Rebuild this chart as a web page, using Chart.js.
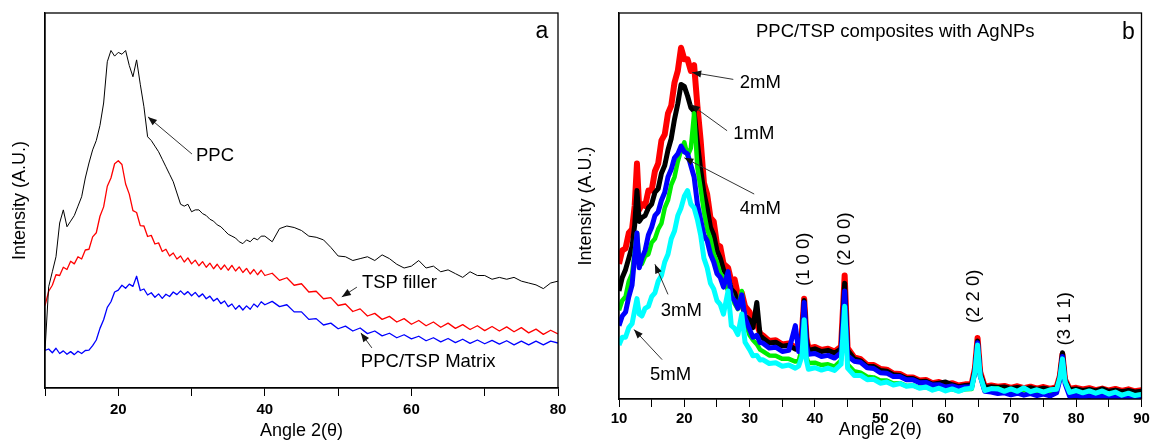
<!DOCTYPE html>
<html lang="en">
<head>
    <meta charset="UTF-8">
    <title>XRD patterns of PPC/TSP composites</title>
    <script src="https://cdn.jsdelivr.net/npm/chart.js"></script>
    <style>
        body { margin: 0; background: #fff; overflow: hidden; }
        #wrap { position: relative; width: 1151px; height: 440px; overflow: hidden; }
        #wrap canvas { position: absolute; top: 0; }
        #chartA { left: 0; }
        #chartB { left: 575px; }
    </style>
</head>
<body>
<div id="wrap">
    <canvas id="chartA" width="575" height="440"></canvas>
    <canvas id="chartB" width="578" height="440"></canvas>
</div>
<script>
    // ---- panel a : diffraction angle 2θ and intensities (arbitrary units, 0-100)
    var angleA = [10, 10.5, 11, 11.5, 12, 12.5, 13, 13.5, 14, 14.5, 15, 15.5, 16, 16.5, 17, 17.5, 18, 18.5, 19, 19.5,
        20, 20.5, 21, 21.5, 22, 22.5, 23, 23.5, 24, 24.5, 25, 25.5, 26, 26.5, 27, 27.5, 28, 28.5, 29, 29.5,
        30, 30.5, 31, 31.5, 32, 32.5, 33, 33.5, 34, 34.5, 35, 35.5, 36, 36.5, 37, 37.5, 38, 38.5, 39, 39.5, 40,
        41, 42, 43, 44, 45, 46, 47, 48, 49, 50, 51, 52, 53, 54, 55, 56, 57, 58, 59, 60,
        61, 62, 63, 64, 65, 66, 67, 68, 69, 70, 71, 72, 73, 74, 75, 76, 77, 78, 79, 80];

    var ppc = [10, 27, 31, 35, 44, 47.5, 43, 44.5, 46, 48.5, 51, 56, 60, 63.5, 66, 70, 76, 87, 90, 88.5,
        89.5, 89, 90, 86, 83, 87.5, 81, 75, 67, 66, 64.5, 63, 61, 59, 57, 55, 52, 49, 48.5, 49,
        47, 47.5, 47.5, 46.5, 46, 45, 44.5, 43.5, 43, 42, 41, 40.5, 40, 39, 38.5, 39.5, 39, 40, 39.5, 40.5, 40.5,
        39, 42.5, 43.2, 42.8, 42, 40.5, 40.2, 39.5, 37.5, 35.2, 35, 34, 34.5, 35, 34, 35.5, 34.5, 33, 32, 32.5,
        34, 32, 32.5, 31, 31.5, 30.5, 29.5, 31, 30, 30, 29, 29.5, 29, 29.5, 28.5, 28, 27.5, 26.5, 28, 28.5];

    var tspFiller = [22, 25.8, 27.4, 30.2, 30, 32.2, 31.6, 33.8, 33.1, 35, 34.4, 36.8, 37, 40.3, 41.4, 45.8, 48.3, 53.8, 56, 59.8,
        60.6, 59.6, 54.4, 51.7, 47.3, 46.8, 43.3, 43.2, 40.4, 40.7, 38.4, 38.7, 36.4, 37, 35.2, 36, 34.4, 35.2, 33.6, 34.7,
        33.1, 34.1, 32.6, 33.7, 32.2, 33.3, 31.8, 33, 31.6, 32.8, 31.4, 32.7, 31.2, 32.3, 30.8, 31.9, 30.4, 31.6, 30.2, 31.4, 30,
        30.6, 28.7, 29.4, 27.4, 27.8, 25.6, 25.8, 23.8, 24.1, 22, 22.4, 20.4, 21.1, 19.2, 19.9, 18.3, 19.1, 17.6, 18.5, 17,
        18, 16.6, 17.6, 16.2, 17.3, 15.9, 16.9, 15.6, 16.6, 15.3, 16.4, 15.2, 16.3, 15, 16.1, 14.7, 15.7, 14.3, 15.4, 14.4];

    var ppcTspMatrix = [10, 10.4, 9.4, 10.6, 9.2, 9.9, 9, 9.7, 8.9, 9.8, 9.2, 10, 10.1, 11.3, 12.8, 15.9, 18.2, 21.5, 23, 25.6,
        26.1, 27.4, 26.6, 27.7, 27.1, 29.8, 26, 26.4, 24.8, 25.4, 24.2, 25.1, 23.9, 25, 24.4, 25.6, 24.9, 25.9, 24.9, 25.7,
        24.6, 25.5, 24.3, 25.1, 23.8, 24.5, 23.2, 23.9, 22.5, 23.2, 21.7, 22.4, 21, 22, 20.8, 21.9, 21, 22.4, 21.6, 23, 22.2,
        23.1, 21.7, 22.2, 20.3, 20.3, 18.3, 18.5, 16.8, 17.3, 15.8, 16.5, 15.2, 16, 14.5, 15.2, 13.9, 14.6, 13.4, 14.2, 13.1,
        13.8, 12.6, 13.4, 12.3, 13.2, 12.1, 13, 11.9, 12.8, 11.8, 12.7, 11.7, 12.6, 11.5, 12.5, 11.5, 12.5, 11.5, 12.5, 12];

    // ---- panel b : PPC/TSP composites with silver nanoparticles
    var angleB = [10, 10.5, 11, 11.5, 12, 12.4, 12.75, 13.1,
        13.5, 14, 14.5, 15, 15.5, 16, 16.5, 17, 17.5, 18, 18.5, 19, 19.5, 20, 20.5, 21, 21.5, 22, 22.5, 23, 23.5, 24, 24.5, 25, 25.5, 26,
        26.7, 27.2, 27.7, 28.2, 28.8, 29.3, 30, 30.5, 31.1, 31.6, 32, 33, 34, 35, 36, 37,
        37.5, 38, 38.35, 38.7, 39, 40, 41, 42, 43, 44, 44.55, 45,
        46, 47, 48, 49, 50, 51, 52, 53, 54, 55, 56, 57, 58, 59, 60, 61, 62, 63, 64,
        64.5, 64.9, 65.3, 66, 67, 68, 69, 70, 71, 72, 73, 74, 75, 76, 77,
        77.5, 77.9, 78.3, 79, 80, 81, 82, 83, 84, 85, 86, 87, 88, 89, 90];

    var ag2mM = [35, 38.5, 39, 43, 44, 50, 61, 49,
        50.5, 50, 54, 54, 59, 61, 67, 68.5, 74, 76, 82, 85, 91, 88, 88, 85, 86.5, 76, 67, 56, 53, 47, 46, 40, 39.5, 35,
        34, 30.5, 31, 27, 27.5, 24, 22.5, 20, 19.5, 17, 16.5, 15, 15.2, 14.1, 14.4, 13.4,
        13.8, 17, 26, 16, 13.1, 13.5, 12.7, 13, 12.3, 13.6, 32, 13.2,
        10.8, 10.3, 8.8, 8.8, 7.8, 7.6, 6.6, 6.5, 5.6, 5.6, 4.8, 4.9, 4.1, 4.4, 3.8, 4.1, 3.5, 3.8, 3.9,
        8, 15.8, 7, 3.2, 3.5, 3.2, 3.4, 2.9, 3.3, 2.8, 3.2, 2.7, 3.1, 2.6, 3.1,
        6, 11.6, 5, 2.6, 2.9, 2.5, 2.8, 2.3, 2.7, 2.2, 2.6, 2.1, 2.5, 2, 2.3];

    var ag1mM = [28, 31.5, 33.5, 36.5, 39.5, 45, 54, 46,
        47, 47.5, 49.5, 50.5, 53.5, 54.5, 58.5, 60.5, 64.5, 67.5, 72.5, 76.5, 81.5, 81, 78.5, 75.5, 74.5, 66.5, 59.5, 53.5, 49.5, 44.5, 42.5, 38.5, 36.5, 33.5,
        31.5, 28.5, 27.5, 25, 24.5, 21.5, 20.5, 18.5, 25, 16.5, 15.8, 14.5, 14.7, 13.7, 13.9, 12.9,
        13.3, 16, 25.5, 15.5, 12.6, 13, 12.3, 12.6, 11.9, 13, 30, 12.6,
        10.4, 9.9, 8.4, 8.4, 7.4, 7.2, 6.3, 6.1, 5.3, 5.3, 4.5, 4.6, 3.8, 4.1, 4.4, 3.7, 3.2, 3.5, 3.6,
        7.5, 15, 6.5, 3, 3.2, 3, 3.1, 2.7, 3, 2.6, 2.9, 2.5, 2.8, 2.4, 2.8,
        5.8, 12, 4.8, 2.4, 2.6, 2.2, 2.5, 2.1, 2.6, 2, 2.3, 1.9, 2.2, 1.8, 2];

    var ag4mM = [19, 21.5, 22.5, 26.5, 29.5, 37, 43, 34,
        36.5, 38.5, 42.5, 44.5, 47.5, 48.5, 51.5, 53.5, 57.5, 59.5, 62.5, 63.5, 65.5, 64, 63.5, 60.5, 57.5, 50.5, 46.5, 42.5, 41, 37.5, 35.5, 32.5, 31.5, 29,
        33, 26.5, 25.5, 23.5, 27, 21, 18, 16, 16.5, 14.6, 14.5, 13.2, 13.4, 12.3, 12.6, 19,
        12.3, 15, 25, 14, 11.6, 11.8, 11, 11.3, 10.6, 12, 28, 11.2,
        9.8, 9.5, 8.1, 7.9, 6.8, 6.7, 5.8, 5.8, 5, 5, 4.2, 4.3, 3.6, 3.7, 3.1, 3.4, 2.9, 3.1, 3.2,
        7, 14.6, 6, 2, 1.8, 1.4, 1.6, 1.1, 1.5, 1, 1.4, 0.9, 1.3, 0.8, 1.6,
        5, 11, 4, 0.7, 0.9, 0.5, 0.8, 0.4, 0.7, 0.3, 0.6, 0.3, 0.5, 0.3, 0.4];

    var ag3mM = [23, 25.5, 26.5, 30.5, 32.5, 38, 43, 36,
        35, 37, 37.5, 40.5, 41.5, 44, 45.5, 49.5, 51.5, 55.5, 57.5, 61.5, 64.5, 66.5, 63, 65, 74, 60, 54.5, 48.5, 44, 41.5, 37.5, 35.5, 32.5, 31.5,
        28, 27.3, 24.7, 23.3, 28, 20, 16.5, 15.3, 14.2, 12.8, 12.4, 11.3, 11.2, 10.4, 10.4, 9.7,
        9.9, 13, 22, 11, 9.3, 9.4, 8.8, 9, 8.4, 10, 25, 9,
        7.2, 6.8, 5.8, 5.6, 4.8, 4.8, 4, 4.1, 3.4, 3.5, 2.9, 3.1, 2.5, 2.7, 2.6, 2.5, 2.1, 2.5, 2.6,
        7, 14, 6, 2.2, 2.5, 2.8, 2, 2.4, 1.9, 2.3, 1.8, 2.2, 1.8, 2.1, 2.3,
        5, 10.5, 4.5, 1.6, 1.9, 1.5, 1.8, 1.3, 1.7, 1.2, 1.5, 1, 1.3, 0.9, 1.1];

    var ag5mM = [14, 16, 16, 18.5, 19.5, 23, 26, 22,
        21.5, 23.5, 24, 26.5, 27.5, 30.5, 32, 35.5, 37.5, 41.5, 43.5, 47.5, 49.5, 52.5, 54, 50.5, 49.5, 46.5, 42.5, 36.5, 34, 30, 28.5, 25.5, 24.5, 22,
        28, 19, 18.3, 16.7, 22, 14.7, 12.8, 11.2, 11.3, 10.1, 10.2, 9.2, 9.4, 8.5, 8.8, 8,
        8.5, 11, 20.5, 10, 7.7, 8.1, 7.5, 8, 7.4, 9, 24, 8,
        6.1, 6.1, 5, 5.1, 4.1, 4.4, 3.6, 4, 3.3, 3.5, 2.8, 3.1, 2.3, 2.8, 2.1, 2.6, 2, 2.6, 2.8,
        7, 14, 6, 2.2, 2.7, 2.6, 2, 2.6, 2, 2.9, 1.9, 2.4, 1.8, 2.4, 2.5,
        5.5, 10.4, 4.5, 1.7, 2.2, 1.6, 2.1, 1.5, 2.1, 1.3, 1.8, 1, 1.5, 0.9, 1.2];

    // labelled ticks
    var tickLabelsA = [20, 40, 60, 80];
    var tickLabelsB = [10, 20, 30, 40, 50, 60, 70, 80, 90];

    // text and arrows, placed in data units (angle, intensity)
    var notesA = [
        {text: 'a', x: 77.8, y: 95, size: 23, align: 'center'},
        {text: 'PPC', x: 30.6, y: 61.9, arrow: [30.05, 62.4, 24.05, 72.3]},
        {text: 'TSP filler', x: 53.25, y: 28, arrow: [52.56, 26.9, 50.5, 24.3]},
        {text: 'PPC/TSP Matrix', x: 53.1, y: 6.9, arrow: [54.6, 10.7, 53.1, 14.7]}
    ];
    var notesB = [
        {text: 'PPC/TSP composites with AgNPs', x: 52.3, y: 95, align: 'center'},
        {text: 'b', x: 88, y: 95, size: 23, align: 'center'},
        {text: '2mM', x: 28.5, y: 82, arrow: [27.5, 82.8, 21.2, 84.6]},
        {text: '1mM', x: 27.5, y: 68.75, arrow: [26.55, 69.5, 21.0, 76.3]},
        {text: '4mM', x: 28.5, y: 49.2, arrow: [30.7, 53.1, 20.0, 62.5]},
        {text: '3mM', x: 16.4, y: 22.9, arrow: [17.5, 27.1, 15.5, 34.9]},
        {text: '5mM', x: 14.75, y: 6.25, arrow: [16.6, 10.2, 12.3, 18]},
        {text: '(1 0 0)', x: 38.35, y: 36.2, rotate: true},
        {text: '(2 0 0)', x: 44.6, y: 41.4, rotate: true},
        {text: '(2 2 0)', x: 64.4, y: 26.6, rotate: true},
        {text: '(3 1 1)', x: 78.2, y: 20.8, rotate: true}
    ];

    var FONT = 'Arial, "Liberation Sans", sans-serif';
    Chart.defaults.font.family = FONT;
    Chart.defaults.color = '#000';

    function toPoints(xs, ys) {
        return xs.map(function (x, i) { return {x: x, y: ys[i]}; });
    }

    // frame around the plot area + labels and arrows
    function notesPlugin(notes) {
        return {
            id: 'notes',
            afterDatasetsDraw: function (chart) {
                var ctx = chart.ctx, a = chart.chartArea;
                var sx = chart.scales.x, sy = chart.scales.y;
                ctx.save();
                ctx.strokeStyle = '#000';
                ctx.lineWidth = 1.3;
                ctx.strokeRect(a.left, a.top, a.right - a.left, a.bottom - a.top);

                notes.forEach(function (n) {
                    var px = sx.getPixelForValue(n.x), py = sy.getPixelForValue(n.y);
                    ctx.fillStyle = '#000';
                    ctx.font = (n.size || 18.5) + 'px ' + FONT;
                    ctx.textBaseline = 'middle';
                    if (n.rotate) {
                        ctx.save();
                        ctx.translate(px, py);
                        ctx.rotate(-Math.PI / 2);
                        ctx.textAlign = 'center';
                        ctx.fillText(n.text, 0, 0);
                        ctx.restore();
                    } else {
                        ctx.textAlign = n.align || 'left';
                        ctx.fillText(n.text, px, py);
                    }
                    if (n.arrow) {
                        var x0 = sx.getPixelForValue(n.arrow[0]), y0 = sy.getPixelForValue(n.arrow[1]);
                        var x1 = sx.getPixelForValue(n.arrow[2]), y1 = sy.getPixelForValue(n.arrow[3]);
                        var ang = Math.atan2(y1 - y0, x1 - x0);
                        ctx.strokeStyle = '#333';
                        ctx.lineWidth = 1;
                        ctx.beginPath();
                        ctx.moveTo(x0, y0);
                        ctx.lineTo(x1, y1);
                        ctx.stroke();
                        ctx.fillStyle = '#111';
                        ctx.beginPath();
                        ctx.moveTo(x1, y1);
                        ctx.lineTo(x1 - 9 * Math.cos(ang) + 3.5 * Math.sin(ang), y1 - 9 * Math.sin(ang) - 3.5 * Math.cos(ang));
                        ctx.lineTo(x1 - 9 * Math.cos(ang) - 3.5 * Math.sin(ang), y1 - 9 * Math.sin(ang) + 3.5 * Math.cos(ang));
                        ctx.closePath();
                        ctx.fill();
                    }
                });
                ctx.restore();
            }
        };
    }

    function makeOptions(xMin, xMax, step, labelled, pad, xTitlePad, yTitlePad) {
        return {
            responsive: false,
            animation: false,
            devicePixelRatio: 1,
            layout: {padding: pad},
            plugins: {legend: {display: false}, tooltip: {enabled: false}},
            elements: {point: {radius: 0}, line: {tension: 0, borderJoinStyle: 'round'}},
            scales: {
                x: {
                    type: 'linear', min: xMin, max: xMax,
                    ticks: {
                        stepSize: step, autoSkip: false, maxRotation: 0, padding: xTitlePad.tick,
                        color: '#000', font: {size: 15, weight: 'bold'},
                        callback: function (v) { return labelled.indexOf(v) >= 0 ? v : ''; }
                    },
                    grid: {display: true, drawOnChartArea: false, drawTicks: true, tickLength: 8,
                        color: '#000', tickColor: '#000', lineWidth: 1},
                    border: {display: true, color: '#000', width: 1.3},
                    title: {display: true, text: 'Angle 2(θ)', color: '#000',
                        font: {size: 18, lineHeight: 1}, padding: {top: xTitlePad.top, bottom: xTitlePad.bottom}}
                },
                y: {
                    min: 0, max: 100,
                    ticks: {display: false},
                    grid: {display: false, drawTicks: false},
                    border: {display: true, color: '#000', width: 1.3},
                    title: {display: true, text: 'Intensity (A.U.)', color: '#000',
                        font: {size: 18}, padding: yTitlePad}
                }
            }
        };
    }

    new Chart(document.getElementById('chartA').getContext('2d'), {
        type: 'line',
        data: {
            datasets: [
                {label: 'PPC', data: toPoints(angleA, ppc), borderColor: '#000000', borderWidth: 1},
                {label: 'TSP filler', data: toPoints(angleA, tspFiller), borderColor: '#ff0000', borderWidth: 1.3},
                {label: 'PPC/TSP Matrix', data: toPoints(angleA, ppcTspMatrix), borderColor: '#0000ff', borderWidth: 1.3}
            ]
        },
        options: makeOptions(10, 80, 10, tickLabelsA,
            {left: 0, right: 17, top: 13, bottom: 0},
            {tick: 5, top: -2, bottom: 0},
            {top: 9.2, bottom: 14.2}),
        plugins: [notesPlugin(notesA)]
    });

    new Chart(document.getElementById('chartB').getContext('2d'), {
        type: 'line',
        data: {
            datasets: [
                {label: '2mM', data: toPoints(angleB, ag2mM), borderColor: '#ff0000', borderWidth: 6, order: 4},
                {label: '1mM', data: toPoints(angleB, ag1mM), borderColor: '#000000', borderWidth: 5, order: 3},
                {label: '3mM', data: toPoints(angleB, ag3mM), borderColor: '#00ee00', borderWidth: 4.5, order: 2},
                {label: '4mM', data: toPoints(angleB, ag4mM), borderColor: '#0000ff', borderWidth: 5, order: 1},
                {label: '5mM', data: toPoints(angleB, ag5mM), borderColor: '#00ffff', borderWidth: 5, order: 0}
            ]
        },
        options: makeOptions(10, 90, 5, tickLabelsB,
            {left: 0, right: 11.5, top: 13, bottom: 0},
            {tick: 3, top: -10, bottom: 1},
            {top: 0, bottom: 22.4}),
        plugins: [notesPlugin(notesB)]
    });
</script>
</body>
</html>
